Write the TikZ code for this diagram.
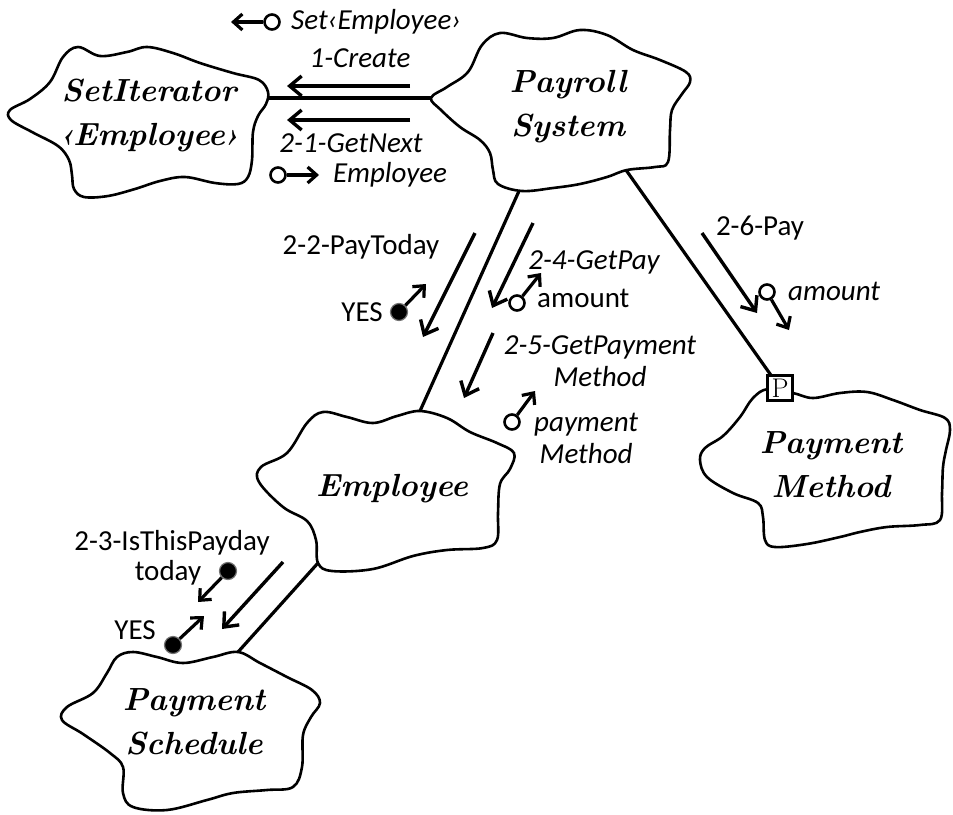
\documentclass[tikz,border=0pt]{standalone}
\usepackage{fontspec}
\usetikzlibrary{arrows.meta}
\newfontfamily\labelfont{Carlito}
\begin{document}
\begin{tikzpicture}[x=1pt,y=-1pt,
  cloud/.style={line width=2.6pt, line join=round, fill=white},
  link/.style={line width=3.2pt},
  classname/.style={font=\fontsize{32}{44}\selectfont\bfseries\itshape, align=center, inner sep=0pt},
  msg/.style={font=\labelfont\fontsize{29}{32}\selectfont, inner sep=0pt, align=center},
  msgi/.style={msg, font=\labelfont\fontsize{29}{32}\selectfont\itshape},
  flow/.style={line width=3.4pt, -{Straight Barb[length=12pt,width=20pt,line width=3.4pt]}},
  ret/.style={line width=3.2pt, -{Straight Barb[length=9pt,width=16pt,line width=3.2pt]}},
  objflow/.style={circle, draw, line width=2.6pt, minimum size=15pt, inner sep=0pt, fill=white},
  valflow/.style={circle, draw=black!55, line width=1.2pt, fill=black, minimum size=17pt, inner sep=0pt},
  pbox/.style={draw, line width=2.6pt, fill=white, minimum size=25pt, inner sep=0pt,
      font=\fontsize{27}{27}\selectfont},
]
\useasboundingbox (0,0) rectangle (953,814);

% ---- attachment points on the clouds
\coordinate (si-r) at (268,98);
\coordinate (ps-l) at (431,98);
\coordinate (ps-b) at (519,191);
\coordinate (ps-br) at (626,170);
\coordinate (em-t) at (420,411);
\coordinate (em-b) at (318,563);
\coordinate (sc-t) at (238,652);

% ---- links between objects
\draw[link] (si-r) -- (ps-l);
\draw[link] (ps-b) -- (em-t);
\draw[link] (em-b) -- (sc-t);
\coordinate (pm-pc) at (780,388);
\draw[link] (ps-br) -- (pm-pc);

% ---- object clouds
\draw[cloud] plot[smooth cycle, tension=0.6] coordinates {
  (10,110) (30,99) (50,82) (63,57) (78,47) (100,56) (127,52) (147,47) (173,53)
  (200,63) (233,73) (259,80) (268,92) (266,104) (258,116) (253,132) (252,160)
  (248,177) (238,184) (215,183) (185,177) (160,181) (135,189) (108,196) (84,197)
  (74,189) (72,175) (69,160) (58,146) (32,132) (11,120)};
\draw[cloud] plot[smooth cycle, tension=0.6] coordinates {
  (431,98) (447,87) (468,72) (482,45) (500,33) (527,38) (553,38) (580,30)
  (607,35) (633,50) (660,60) (686,72) (690,82) (682,94) (672,110) (670,130)
  (668,162) (655,167) (627,170) (607,177) (580,184) (553,188) (522,191) (498,184)
  (493,170) (490,153) (480,140) (460,127) (441,110)};
\draw[cloud] plot[smooth cycle, tension=0.6] coordinates {
  (420,411) (447,418) (470,432) (497,443) (514,453) (510,469) (500,484) (498,513)
  (497,540) (483,548) (447,550) (413,556) (373,569) (332,571) (318,563) (316,540)
  (307,521) (283,507) (259,482) (261,467) (287,453) (307,423) (323,412) (347,417)
  (373,423) (397,416)};
\draw[cloud] plot[smooth cycle, tension=0.6] coordinates {
  (238,652) (260,663) (287,677) (312,690) (320,703) (311,717) (303,735) (302,767)
  (293,787) (267,790) (233,793) (207,800) (167,810) (133,807) (123,793) (123,767)
  (110,753) (83,734) (62,720) (67,707) (93,693) (107,673) (117,657) (133,652)
  (157,657) (183,663) (213,657)};
\draw[cloud] plot[smooth cycle, tension=0.6] coordinates {
  (793,393) (813,398) (840,393) (867,392) (893,400) (920,410) (945,418) (950,430)
  (946,450) (943,467) (942,493) (940,520) (920,525) (887,527) (860,532) (840,537)
  (807,544) (775,547) (765,540) (763,517) (758,503) (733,493) (707,477) (700,460)
  (705,448) (723,436) (740,417) (753,398) (768,389)};
\node[pbox] (pm-p) at (pm-pc) {P};

% ---- object names
\node[classname] (n-si) at (149,115) {SetIterator\\‹Employee›};
\node[classname] (n-ps) at (568,107) {Payroll\\System};
\node[classname] (n-em) at (392,489) {Employee};
\node[classname] (n-sc) at (194,722) {Payment\\Schedule};
\node[classname] (n-pm) at (831,465) {Payment\\Method};

% ---- 1-Create
\node[objflow] (o-set) at (272,22) {};
\coordinate (t-set) at (231,22);
\draw[ret] (o-set) -- (t-set);
\node[msgi, anchor=west] (l-set) at (291,22) {Set‹Employee›};
\node[msgi] (l-create) at (360,58) {1-Create};
\coordinate (c1a) at (410,86);
\coordinate (c1b) at (287,86);
\draw[flow] (c1a) -- (c1b);

% ---- 2-1-GetNext
\coordinate (c2a) at (410,120);
\coordinate (c2b) at (287,120);
\draw[flow] (c2a) -- (c2b);
\node[msgi] (l-next) at (351,143) {2-1-GetNext};
\node[objflow] (o-emp) at (278,175) {};
\coordinate (t-emp) at (319,175);
\draw[ret] (o-emp) -- (t-emp);
\node[msgi, anchor=west] (l-emp) at (333,175) {Employee};

% ---- 2-2-PayToday
\node[msg] (l-today) at (361,247) {2-2-PayToday};
\coordinate (c22a) at (475,233);
\coordinate (c22b) at (423,337);
\draw[flow] (c22a) -- (c22b);
\node[msg, anchor=east] (l-yes1) at (383,312) {YES};
\node[valflow] (v-yes1) at (399,312) {};
\coordinate (t-yes1) at (426,284);
\draw[ret] (v-yes1) -- (t-yes1);

% ---- 2-4-GetPay
\coordinate (c24a) at (533,223);
\coordinate (c24b) at (492,308);
\draw[flow] (c24a) -- (c24b);
\node[msgi] (l-getpay) at (594,262) {2-4-GetPay};
\node[objflow] (o-amt1) at (517,303) {};
\coordinate (t-amt1) at (541,273);
\draw[ret] (o-amt1) -- (t-amt1);
\node[msg, anchor=west] (l-amt1) at (537,298) {amount};

% ---- 2-5-GetPaymentMethod
\coordinate (c25a) at (493,333);
\coordinate (c25b) at (464,398);
\draw[flow] (c25a) -- (c25b);
\node[msgi] (l-getpm) at (600,361) {2-5-GetPayment\\Method};
\node[objflow] (o-pm) at (512,422) {};
\coordinate (t-pm) at (535,391);
\draw[ret] (o-pm) -- (t-pm);
\node[msgi, anchor=west, align=center] (l-pm) at (534,438) {payment\\Method};

% ---- 2-6-Pay
\node[msg] (l-pay) at (760,228) {2-6-Pay};
\coordinate (c26a) at (702,233);
\coordinate (c26b) at (757,313);
\draw[flow] (c26a) -- (c26b);
\node[objflow] (o-amt2) at (767,292) {};
\coordinate (t-amt2) at (789,330);
\draw[ret] (o-amt2) -- (t-amt2);
\node[msgi, anchor=west] (l-amt2) at (788,291) {amount};

% ---- 2-3-IsThisPayday
\node[msg] (l-isthis) at (172,543) {2-3-IsThisPayday};
\node[msg] (l-tdy) at (168,573) {today};
\node[valflow] (v-tdy) at (228,571) {};
\coordinate (t-tdy) at (198,602);
\draw[ret] (v-tdy) -- (t-tdy);
\coordinate (c23a) at (283,562);
\coordinate (c23b) at (222,629);
\draw[flow] (c23a) -- (c23b);
\node[msg, anchor=east] (l-yes2) at (156,630) {YES};
\node[valflow] (v-yes2) at (173,645) {};
\coordinate (t-yes2) at (204,616);
\draw[ret] (v-yes2) -- (t-yes2);
\end{tikzpicture}
\end{document}
